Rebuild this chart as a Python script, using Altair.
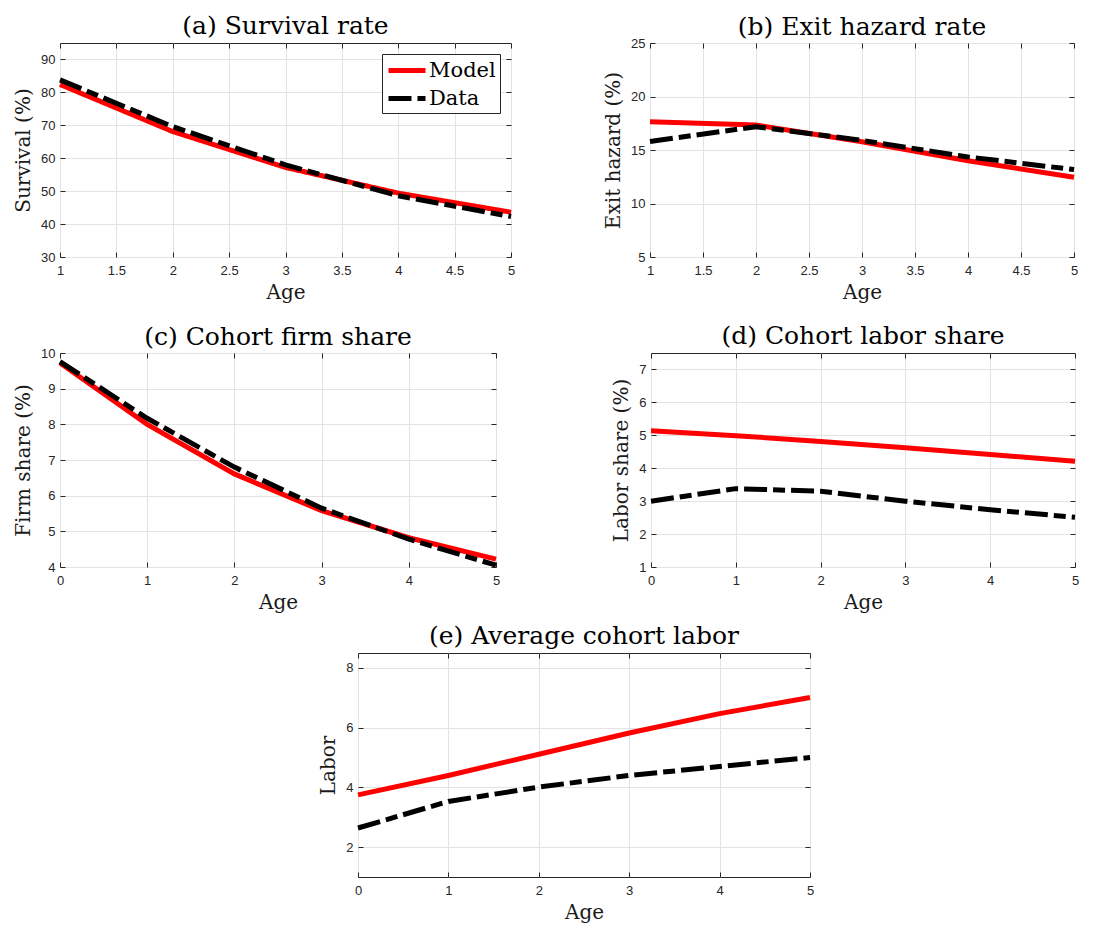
import altair as alt
import pandas as pd

# ---------------- data ----------------
age_ab = [1, 2, 3, 4, 5]
age_cde = [0, 1, 2, 3, 4, 5]

survival_model = [82.4, 68.1, 57.2, 49.4, 43.6]
survival_data = [83.8, 69.6, 58.0, 48.6, 42.3]

hazard_model = [17.65, 17.33, 15.77, 14.0, 12.45]
hazard_data = [15.8, 17.18, 15.9, 14.35, 13.17]

firm_model = [9.72, 8.0, 6.61, 5.58, 4.82, 4.22]
firm_data = [9.76, 8.17, 6.8, 5.65, 4.78, 4.05]

labshare_model = [5.14, 4.99, 4.81, 4.62, 4.42, 4.21]
labshare_data = [3.0, 3.38, 3.30, 3.0, 2.74, 2.51]

labor_model = [3.75, 4.40, 5.11, 5.82, 6.47, 7.01]
labor_data = [2.64, 3.53, 4.01, 4.40, 4.70, 5.0]

series_names = ["Model", "Data"]
series_colors = ["#ff0000", "#000000"]
series_dashes = [[1, 0], [23, 6, 12, 6]]

SERIF = "DejaVu Serif"
SANS = "Liberation Sans"
LW = 5


def panel(title, ages, model, data, ytitle, xdom, xticks, ydom, yticks, w, h,
          legend=False, title_offset=4):
    df_m = pd.DataFrame({"Age": ages, "val": model, "Series": "Model"})
    df_d = pd.DataFrame({"Age": ages, "val": data, "Series": "Data"})
    xs = alt.Scale(domain=xdom, nice=False, zero=False)
    ys = alt.Scale(domain=ydom, nice=False, zero=False)

    x_main = alt.X("Age:Q", scale=xs, axis=alt.Axis(
        values=xticks, title="Age", orient="bottom", offset=-5, tickSize=5,
        labelPadding=7, labelExpr="'' + datum.value", grid=True, domain=False,
        titlePadding=5, labelFlush=False))
    y_main = alt.Y("val:Q", scale=ys, axis=alt.Axis(
        values=yticks, title=ytitle, orient="left", offset=-5, tickSize=5,
        labelPadding=5, labelExpr="'' + datum.value", grid=True, domain=False,
        titlePadding=7, labelFlush=False))
    x_top = alt.X("Age:Q", scale=xs, axis=alt.Axis(
        values=xticks, title=None, orient="top", offset=-5, tickSize=5,
        labels=False, grid=False, domain=False))
    y_right = alt.Y("val:Q", scale=ys, axis=alt.Axis(
        values=yticks, title=None, orient="right", offset=-5, tickSize=5,
        labels=False, grid=False, domain=False))

    if legend:
        leg = alt.Legend(
            title=None, orient="top-right", offset=11, strokeColor="#262626",
            fillColor="white", padding=4, labelFont=SERIF, labelFontSize=21,
            labelColor="black", symbolType="M-1,0H2.7", symbolSize=400,
            symbolStrokeWidth=LW, rowPadding=5, labelOffset=18, cornerRadius=0)
        col = alt.Color("Series:N", scale=alt.Scale(domain=series_names, range=series_colors), legend=leg)
        dash = alt.StrokeDash("Series:N", scale=alt.Scale(domain=series_names, range=series_dashes), legend=leg)
        l1 = alt.Chart(df_m).mark_line(strokeWidth=LW).encode(x=x_main, y=y_main, color=col, strokeDash=dash)
        l2 = alt.Chart(df_d).mark_line(strokeWidth=LW).encode(x=x_top, y=y_right, color=col, strokeDash=dash)
    else:
        l1 = alt.Chart(df_m).mark_line(strokeWidth=LW, color=series_colors[0]).encode(x=x_main, y=y_main)
        l2 = alt.Chart(df_d).mark_line(strokeWidth=LW, color=series_colors[1],
                                       strokeDash=series_dashes[1]).encode(x=x_top, y=y_right)
    return alt.layer(l1, l2).resolve_axis(x="independent", y="independent").properties(
        width=w, height=h, title=alt.TitleParams(title, frame="group", offset=title_offset))


pa = panel("(a) Survival rate", age_ab, survival_model, survival_data, "Survival (%)",
           [1, 5], [1, 1.5, 2, 2.5, 3, 3.5, 4, 4.5, 5], [30, 95], [30, 40, 50, 60, 70, 80, 90],
           451, 214, legend=True)
pb = panel("(b) Exit hazard rate", age_ab, hazard_model, hazard_data, "Exit hazard (%)",
           [1, 5], [1, 1.5, 2, 2.5, 3, 3.5, 4, 4.5, 5], [5, 25], [5, 10, 15, 20, 25],
           424, 214, title_offset=-2.5)
pc = panel("(c) Cohort firm share", age_cde, firm_model, firm_data, "Firm share (%)",
           [0, 5], [0, 1, 2, 3, 4, 5], [4, 10], [4, 5, 6, 7, 8, 9, 10],
           436, 214, title_offset=-2.5)
pd_ = panel("(d) Cohort labor share", age_cde, labshare_model, labshare_data, "Labor share (%)",
            [0, 5], [0, 1, 2, 3, 4, 5], [1, 7.5], [1, 2, 3, 4, 5, 6, 7],
            424, 214)
pe = panel("(e) Average cohort labor", age_cde, labor_model, labor_data, "Labor",
           [0, 5], [0, 1, 2, 3, 4, 5], [1, 8.5], [2, 4, 6, 8],
           452, 224)

spacer = alt.Chart(pd.DataFrame({"v": [0]})).mark_point(opacity=0).encode(
    x=alt.value(0), y=alt.value(0)).properties(
    width=247, height=20, view=alt.ViewBackground(stroke="transparent"))

IND = dict(color="independent", strokeDash="independent")
row1 = alt.hconcat(pa, pb, spacing=81).resolve_scale(**IND)
row2 = alt.hconcat(pc, pd_, spacing=104).resolve_scale(**IND)
row3 = alt.hconcat(spacer, pe, spacing=10).resolve_scale(**IND)
top = alt.vconcat(row1, row2, spacing=20).resolve_scale(**IND)
chart = alt.vconcat(top, row3, spacing=10).resolve_scale(**IND).configure_view(
    stroke="#262626", strokeWidth=1
).configure_axis(
    labelFont=SANS, labelFontSize=13, labelColor="#262626",
    titleFont=SERIF, titleFontSize=20, titleFontWeight="normal", titleColor="#1a1a1a",
    tickColor="#262626", tickWidth=1, gridColor="#e3e3e3", gridWidth=1
).configure_title(
    font=SERIF, fontSize=25, fontWeight="normal", color="black", anchor="middle"
)

chart.save("out.html", embed_options={"renderer": "svg", "actions": False})
